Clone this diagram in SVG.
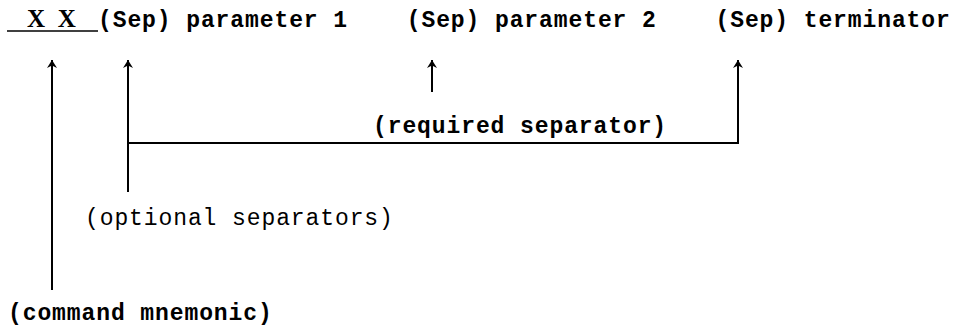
<svg xmlns="http://www.w3.org/2000/svg" width="956" height="329" viewBox="0 0 956 329">
  <defs>
    <style>
      .mono { font-family: "Liberation Mono", "DejaVu Sans Mono", monospace; font-size: 23px; letter-spacing: 0.9px; fill: #000; white-space: pre; }
      .bold { font-weight: bold; }
      .mnem { font-family: "Liberation Serif", "Times New Roman", serif; font-size: 25px; font-weight: bold; letter-spacing: 3.2px; fill: #000; white-space: pre; }
      .wire { fill: none; stroke: #000; stroke-width: 2; }
      .rule { fill: none; stroke: #000; stroke-width: 1.5; }
    </style>
    <!-- barbed arrowhead, drawn along +x so orient="auto" turns it with the line -->
    <marker id="tip" viewBox="-9 -6 10 12" refX="0" refY="0" markerWidth="10" markerHeight="12" markerUnits="userSpaceOnUse" orient="auto">
      <path d="M0,0 L-8,-5 L-5.5,0 L-8,5 Z" fill="#000"/>
    </marker>
  </defs>

  <!-- command syntax line -->
  <g id="syntax">
    <text class="mnem" x="27" y="27">X X</text>
    <line class="rule" x1="7" y1="31" x2="98" y2="31"/>
    <text class="mono bold" x="98" y="27">(Sep) parameter 1    (Sep) parameter 2    (Sep) terminator</text>
  </g>

  <!-- labels -->
  <g id="required-separator">
    <text class="mono bold" x="373" y="133">(required separator)</text>
  </g>
  <g id="optional-separators">
    <text class="mono" x="85" y="225">(optional separators)</text>
  </g>
  <g id="command-mnemonic">
    <text class="mono bold" x="8" y="320">(command mnemonic)</text>
  </g>

  <!-- pointers -->
  <g id="connectors">
    <path class="wire" d="M52,290 V60" marker-end="url(#tip)"/>
    <path class="wire" d="M128,192 V60" marker-end="url(#tip)"/>
    <path class="wire" d="M432,92 V60" marker-end="url(#tip)"/>
    <path class="wire" d="M128,143 H738 V60" marker-end="url(#tip)"/>
  </g>
</svg>
